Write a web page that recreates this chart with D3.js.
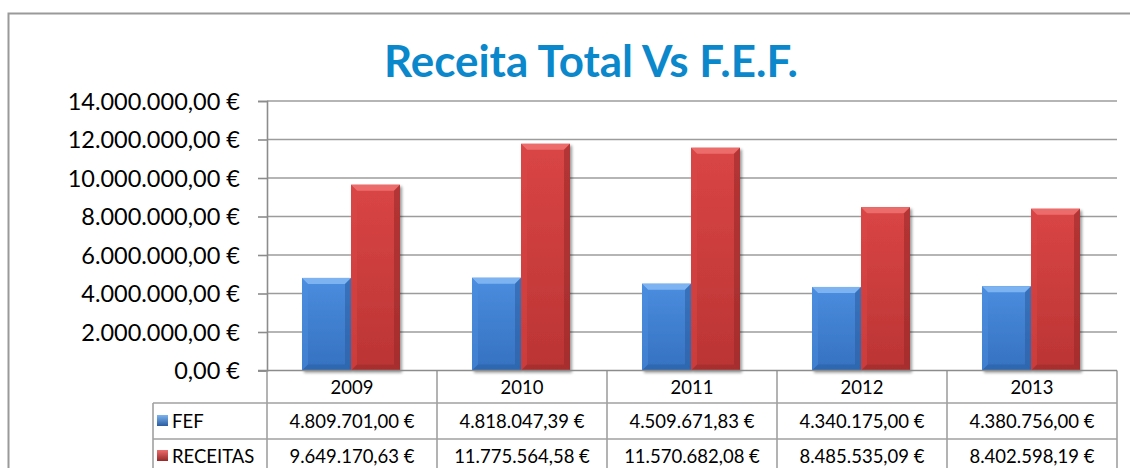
<!DOCTYPE html>
<html>
<head>
<meta charset="utf-8">
<script src="https://cdn.jsdelivr.net/npm/d3@7"></script>
<style>
	body { margin:0; background:#fff; }
	svg { display:block; font-family:Lato, "Open Sans", sans-serif; }
</style>
</head>
<body>
<svg id="chart" width="1130" height="468"></svg>
<script>
//data
var years = ["2009","2010","2011","2012","2013"];
var seriesNames = ["FEF","RECEITAS"];
var fefValues = [4809701.00, 4818047.39, 4509671.83, 4340175.00, 4380756.00];
var receitasValues = [9649170.63, 11775564.58, 11570682.08, 8485535.09, 8402598.19];
var yTicks = [0, 2000000, 4000000, 6000000, 8000000, 10000000, 12000000, 14000000];

//portuguese number format: 1.234.567,89 €
var ptLocale = d3.formatLocale({decimal:",", thousands:".", grouping:[3], currency:["","\u00a0€"]});
var fmtMoney = ptLocale.format(",.2f");
function euro(v) { return fmtMoney(v) + " €"; }

var svg = d3.select("#chart");
var defs = svg.append("defs");

var colors = {
	FEF: {light:"#4b8ddf", mid:"#3571c0", dark:"#2a5c9f", top:"#7db3f0", bottom:"#2d65ad"},
	RECEITAS: {light:"#da4545", mid:"#bb3434", dark:"#952828", top:"#ec6c6c", bottom:"#a42e2e"}
};

//vertical gradients for the bar bodies
seriesNames.forEach(function(s) {
	var c = colors[s];
	var g = defs.append("linearGradient").attr("id","grad-"+s).attr("x1","0").attr("x2","0").attr("y1","0").attr("y2","1");
	g.append("stop").attr("offset","0%").attr("stop-color",c.light);
	g.append("stop").attr("offset","100%").attr("stop-color",c.mid);
	var m = defs.append("linearGradient").attr("id","mark-"+s).attr("x1","0").attr("x2","0").attr("y1","0").attr("y2","1");
	m.append("stop").attr("offset","0%").attr("stop-color",c.top);
	m.append("stop").attr("offset","100%").attr("stop-color",c.dark);
});
var shadow = defs.append("filter").attr("id","shadow").attr("x","-20%").attr("y","-20%").attr("width","140%").attr("height","140%");
shadow.append("feGaussianBlur").attr("in","SourceAlpha").attr("stdDeviation",1.5);
shadow.append("feOffset").attr("dx",1.5).attr("dy",1.5).attr("result","b");
shadow.append("feComponentTransfer").append("feFuncA").attr("type","linear").attr("slope",0.4);
var fm = shadow.append("feMerge");
fm.append("feMergeNode");
fm.append("feMergeNode").attr("in","SourceGraphic");

//outer chart frame
svg.append("path")
	.attr("d","M8.5,470 V13.5 H1132")
	.attr("fill","none").attr("stroke","#9a9a9a").attr("stroke-width",2);

//title
svg.append("text")
	.attr("x",591).attr("y",77)
	.attr("text-anchor","middle")
	.attr("font-size",44).attr("font-weight","bold")
	.attr("fill","#0a88cb")
	.attr("textLength",414).attr("lengthAdjust","spacingAndGlyphs")
	.text("Receita Total Vs F.E.F.");

//scales
var plotLeft = 267, plotRight = 1117, plotTop = 101, plotBottom = 370.5;
var x = d3.scaleBand().domain(years).range([plotLeft, plotRight]).paddingInner(0).paddingOuter(0);
var xs = d3.scaleBand().domain(seriesNames).range([35, 133]);
var y = d3.scaleLinear().domain([0, 14000000]).range([plotBottom, plotTop]);

//gridlines
svg.append("g").selectAll("line").data(yTicks.slice(1)).join("line")
	.attr("x1",plotLeft).attr("x2",plotRight)
	.attr("y1",function(d){return y(d);}).attr("y2",function(d){return y(d);})
	.attr("stroke","#9c9c9c").attr("stroke-width",1.6);

//y axis
var yAxis = svg.append("g").attr("transform","translate("+plotLeft+",0)")
	.call(d3.axisLeft(y).tickValues(yTicks).tickSize(9).tickPadding(18).tickFormat(euro));
yAxis.select(".domain").attr("stroke","#8c8c8c").attr("stroke-width",1.6);
yAxis.selectAll(".tick line").attr("stroke","#8c8c8c").attr("stroke-width",1.6);
yAxis.selectAll(".tick text")
	.attr("font-size",23.5).attr("fill","#000")
	.attr("font-family","Lato, sans-serif")
	.attr("dy","0.36em");

//bars
var data = [];
years.forEach(function(yr,i) {
	data.push({year:yr, series:"FEF", value:fefValues[i]});
	data.push({year:yr, series:"RECEITAS", value:receitasValues[i]});
});

var bars = svg.append("g").selectAll("g").data(data).join("g")
	.attr("filter","url(#shadow)");
var bev = 6;
bars.each(function(d) {
	var g = d3.select(this);
	var x0 = x(d.year) + xs(d.series), w = xs.bandwidth();
	var y0 = y(d.value), h = y(0) - y0;
	var c = colors[d.series];
	g.append("rect").attr("x",x0).attr("y",y0).attr("width",w).attr("height",h)
		.attr("fill","url(#grad-"+d.series+")");
	//bevel: top, left, right, bottom
	g.append("polygon").attr("points",[[x0,y0],[x0+w,y0],[x0+w-bev,y0+bev],[x0+bev,y0+bev]].join(" "))
		.attr("fill",c.top);
	g.append("polygon").attr("points",[[x0,y0],[x0+bev,y0+bev],[x0+bev,y0+h-bev],[x0,y0+h]].join(" "))
		.attr("fill",c.light).attr("opacity",0.5);
	g.append("polygon").attr("points",[[x0+w,y0],[x0+w-bev,y0+bev],[x0+w-bev,y0+h-bev],[x0+w,y0+h]].join(" "))
		.attr("fill",c.dark).attr("opacity",0.55);
	g.append("polygon").attr("points",[[x0,y0+h],[x0+bev,y0+h-bev],[x0+w-bev,y0+h-bev],[x0+w,y0+h]].join(" "))
		.attr("fill",c.bottom).attr("opacity",0.8);
});

//data table under the chart
var tableLeft = 153;
var grid = svg.append("g").attr("stroke","#a0a0a0").attr("stroke-width",1.6).attr("fill","none");
//horizontal lines
grid.append("line").attr("x1",tableLeft).attr("x2",plotRight).attr("y1",403).attr("y2",403);
grid.append("line").attr("x1",tableLeft).attr("x2",plotRight).attr("y1",439).attr("y2",439);
grid.append("line").attr("x1",tableLeft).attr("x2",tableLeft).attr("y1",403).attr("y2",470);
//vertical lines
var vlines = years.map(function(yr){return x(yr);}).concat([plotRight]);
grid.selectAll("line.v").data(vlines).join("line").attr("class","v")
	.attr("x1",function(d){return d;}).attr("x2",function(d){return d;})
	.attr("y1",plotBottom).attr("y2",470);
//axis base line over the table
svg.append("line").attr("x1",plotLeft-9).attr("x2",plotRight).attr("y1",plotBottom).attr("y2",plotBottom)
	.attr("stroke","#8c8c8c").attr("stroke-width",1.6);

svg.append("g").selectAll("text").data(years).join("text")
	.attr("x",function(d){return x(d)+x.bandwidth()/2;})
	.attr("y",394).attr("text-anchor","middle")
	.attr("font-size",18.5).attr("fill","#000")
	.text(function(d){return d;});

var rows = [{name:"FEF", values:fefValues, base:428}, {name:"RECEITAS", values:receitasValues, base:463}];
rows.forEach(function(r) {
	svg.append("g").selectAll("text").data(r.values).join("text")
		.attr("x",function(d,i){return x(years[i])+x.bandwidth()/2;})
		.attr("y",r.base).attr("text-anchor","middle")
		.attr("font-size",18.5).attr("fill","#000")
		.text(function(d){return euro(d);});
	//legend key
	svg.append("rect").attr("x",157).attr("y",r.base-13).attr("width",11).attr("height",11)
		.attr("fill","url(#mark-"+r.name+")");
	svg.append("text").attr("x",172).attr("y",r.base)
		.attr("font-size",18.5).attr("fill","#000").text(r.name);
});
</script>
</body>
</html>
